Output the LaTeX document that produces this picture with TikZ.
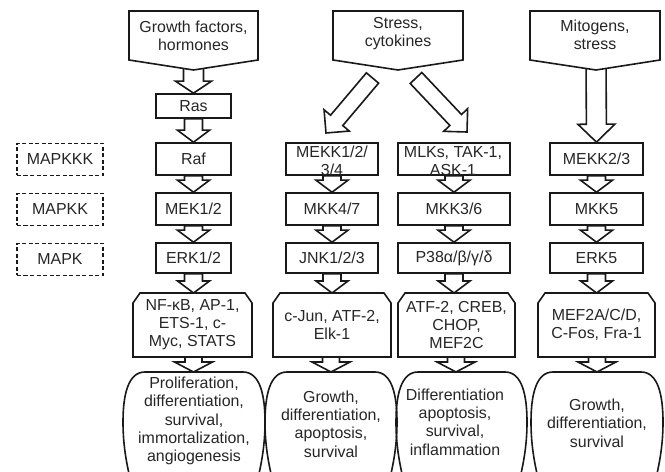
\documentclass[tikz,border=0pt]{standalone}
\usepackage{fontspec}
\setmainfont{Liberation Sans}
\usetikzlibrary{calc}
\pgfdeclarelayer{arrowlayer}
\pgfdeclarelayer{shapelayer}
\pgfsetlayers{arrowlayer,shapelayer,main}
% #1 start, #2 tip, #3 shaft half width, #4 head half width, #5 head length
\newcommand\blockarrow[5]{%
  \path ($(#2)!#5!(#1)$) coordinate (bah);
  \draw[blk] ($(#1)!#3!90:(#2)$) -- ($(bah)!#3!90:(#2)$) -- ($(bah)!#4!90:(#2)$) -- (#2)
    -- ($(bah)!#4!-90:(#2)$) -- ($(bah)!#3!-90:(#2)$) -- ($(#1)!#3!-90:(#2)$) -- cycle;}
\newcommand\topshape[3]{% left, right, point x
  \draw[shp] (#1,11) -- (#2,11) -- (#2,60) -- (#3,70) -- (#1,60) -- cycle;}
\newcommand\tfshape[2]{%
  \draw[shp] (#1,357) -- (#1,303) -- ({#1+7},293) -- ({#2-7},293) -- (#2,303) -- (#2,357) -- cycle;}
\newcommand\outshape[2]{%
  \draw[ln] ({#1+22},372) -- ({#2-22},372) .. controls ({#2-5},372) and (#2,395) .. (#2,422)
    .. controls (#2,447) and ({#2-4},467) .. ({#2-10},490) -- ({#1+10},490)
    .. controls ({#1+4},467) and (#1,447) .. (#1,422)
    .. controls (#1,395) and ({#1+5},372) .. cycle;}
\tikzset{
  ln/.style={draw=black!90, line width=1.6bp},
  blk/.style={ln, fill=white, line join=miter},
  shp/.style={ln, fill=white},
  box/.style={ln, fill=white, rectangle, inner sep=0pt, minimum height=32bp,
    text=black!85, font=\fontsize{16}{18}\selectfont, align=center},
  dbox/.style={box, dash pattern=on 4bp off 2.5bp, minimum width=86bp},
  txt/.style={inner sep=0pt, align=center, text=black!85, font=\fontsize{16}{18}\selectfont},
  otxt/.style={txt, font=\fontsize{16}{18.5}\selectfont},
}
\begin{document}
\begin{tikzpicture}[x=1bp,y=-1bp]
\useasboundingbox (0,0) rectangle (665,472);

% level labels
\node[dbox] (kkk) at (60,159.5) {MAPKKK};
\node[dbox] (kk) at (60,209.5) {MAPKK};
\node[dbox] (k) at (60,259.5) {MAPK};

% top inputs
\begin{pgfonlayer}{shapelayer}
  \topshape{129}{258}{193.5}
  \topshape{333}{463}{398}
  \topshape{530}{660}{596}
\end{pgfonlayer}
\node[txt] (gf) at (193.5,36) {Growth factors,\\hormones};
\node[txt] (st) at (398,34) {Stress,\\cytokines};
\node[txt] (mi) at (595,35) {Mitogens,\\stress};
\coordinate (gfp) at (193.5,62);
\coordinate (mip) at (596,62);
\coordinate (dl0) at (372.5,78);
\coordinate (dl1) at (326,133);
\coordinate (dr0) at (416,78);
\coordinate (dr1) at (467,132);

% column 1
\node[box, minimum width=75bp, minimum height=24bp] (ras) at (193.5,106) {Ras};
\node[box, minimum width=75bp] (raf) at (193.5,159) {Raf};
\node[box, minimum width=75bp] (mek) at (193.5,209) {MEK1/2};
\node[box, minimum width=75bp, minimum height=30bp] (erk) at (193.5,258) {ERK1/2};

% column 2
\node[box, minimum width=92bp] (mekk) at (332,159) {};
\node[txt] (mekkt) at (332,161) {MEKK1/2/\\3/4};
\node[box, minimum width=92bp] (mkk47) at (332,209) {MKK4/7};
\node[box, minimum width=92bp, minimum height=30bp] (jnk) at (332,258) {JNK1/2/3};

% column 3
\node[box, minimum width=112bp] (mlk) at (454,159) {};
\node[txt] (mlkt) at (453,161) {MLKs, TAK-1,\\ASK-1};
\node[box, minimum width=112bp] (mkk36) at (454,209) {MKK3/6};
\node[box, minimum width=112bp, minimum height=30bp] (p38) at (454,258) {P38α/β/γ/δ};

% column 4
\node[box, minimum width=93bp] (mekk23) at (596.5,159) {MEKK2/3};
\node[box, minimum width=93bp] (mkk5) at (596.5,209) {MKK5};
\node[box, minimum width=93bp, minimum height=30bp] (erk5) at (596.5,258) {ERK5};

% transcription factors
\begin{pgfonlayer}{shapelayer}
  \tfshape{133}{252}
  \tfshape{273}{391}
  \tfshape{398}{515}
  \tfshape{538}{655}
\end{pgfonlayer}
\node[txt] (tf1) at (192.5,325) {NF-κB, AP-1,\\ETS-1, c-\\Myc, STATS};
\node[txt] (tf2) at (332,325) {c-Jun, ATF-2,\\Elk-1};
\node[txt] (tf3) at (456.5,325) {ATF-2, CREB,\\CHOP,\\MEF2C};
\node[txt] (tf4) at (596.5,325) {MEF2A/C/D,\\C-Fos, Fra-1};
\coordinate (tf1n) at (193.5,293); \coordinate (tf1s) at (193.5,357);
\coordinate (tf2n) at (332,293);   \coordinate (tf2s) at (331,357);
\coordinate (tf3n) at (454,293);   \coordinate (tf3s) at (456,357);
\coordinate (tf4n) at (596.5,293); \coordinate (tf4s) at (597,357);

% outcomes
\begin{pgfonlayer}{shapelayer}
  \outshape{123}{265}
  \outshape{265}{397}
  \outshape{396}{527}
  \outshape{531}{663}
\end{pgfonlayer}
\node[otxt] (o1) at (194,421) {Proliferation,\\differentiation,\\survival,\\immortalization,\\angiogenesis};
\node[otxt] (o2) at (331,424) {Growth,\\differentiation,\\apoptosis,\\survival};
\node[otxt] (o3) at (455,422) {Differentiation\\apoptosis,\\survival,\\inflammation};
\node[otxt] (o4) at (597,423) {Growth,\\differentiation,\\survival};
\coordinate (o1n) at (193.5,372);
\coordinate (o2n) at (331,372);
\coordinate (o3n) at (456,372);
\coordinate (o4n) at (597,372);

% block arrows
\begin{pgfonlayer}{arrowlayer}
  \blockarrow{gfp}{ras.north}{10bp}{18bp}{12bp}
  \blockarrow{ras.south}{raf.north}{9bp}{16bp}{12bp}
  \blockarrow{raf.south}{mek.north}{9bp}{16bp}{12bp}
  \blockarrow{mek.south}{erk.north}{9bp}{16bp}{12bp}
  \blockarrow{erk.south}{tf1n}{9bp}{16bp}{12bp}
  \blockarrow{tf1s}{o1n}{8.5bp}{19bp}{10bp}

  \blockarrow{dl0}{dl1}{8bp}{16.5bp}{16.5bp}
  \blockarrow{mekk.south}{mkk47.north}{9bp}{16bp}{12bp}
  \blockarrow{mkk47.south}{jnk.north}{9bp}{16bp}{12bp}
  \blockarrow{jnk.south}{tf2n}{9bp}{16bp}{12bp}
  \blockarrow{tf2s}{o2n}{8.5bp}{19bp}{10bp}

  \blockarrow{dr0}{dr1}{8bp}{16.5bp}{16.5bp}
  \blockarrow{mlk.south}{mkk36.north}{9bp}{16bp}{12bp}
  \blockarrow{mkk36.south}{p38.north}{9bp}{16bp}{12bp}
  \blockarrow{p38.south}{tf3n}{9bp}{16bp}{12bp}
  \blockarrow{tf3s}{o3n}{8.5bp}{19bp}{10bp}

  \blockarrow{mip}{mekk23.north}{10bp}{18.5bp}{18bp}
  \blockarrow{mekk23.south}{mkk5.north}{9bp}{16bp}{12bp}
  \blockarrow{mkk5.south}{erk5.north}{9bp}{16bp}{12bp}
  \blockarrow{erk5.south}{tf4n}{9bp}{16bp}{12bp}
  \blockarrow{tf4s}{o4n}{8.5bp}{19bp}{10bp}
\end{pgfonlayer}
\end{tikzpicture}
\end{document}
